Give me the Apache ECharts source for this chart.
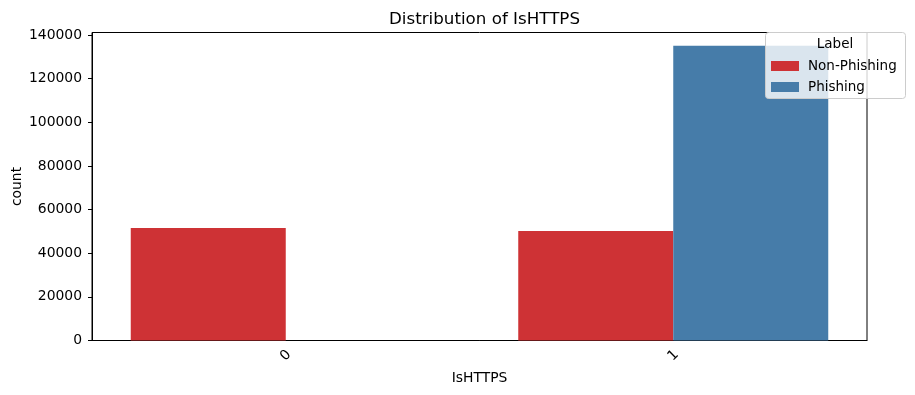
<!DOCTYPE html>
<html>
<head>
<meta charset="utf-8">
<script src="https://cdn.jsdelivr.net/npm/echarts@6/dist/echarts.min.js"></script>
<style>html,body{margin:0;padding:0;background:#fff}#c{width:915px;height:395px}</style>
</head>
<body>
<div id="c"></div>
<script>
var categories = ['0', '1'];
var nonPhishing = [51560, 50190];
var phishing = [0, 135110];
var yTicks = [0, 20000, 40000, 60000, 80000, 100000, 120000, 140000];
var seriesNames = ['Non-Phishing', 'Phishing'];

var FONT = 'DejaVu Sans';
var FS = 13.9;
var chart = echarts.init(document.getElementById('c'));
chart.setOption({
  animation: false,
  textStyle: {fontFamily: FONT},
  title: {
    text: 'Distribution of IsHTTPS',
    left: 479.5, textAlign: 'center', top: 6,
    textStyle: {fontFamily: FONT, fontSize: 16.7, fontWeight: 'normal', color: '#000'}
  },
  grid: {left: 92, right: 48, top: 32.5, bottom: 54.5, containLabel: false, outerBoundsMode: 'none',
         show: true, borderColor: '#000', borderWidth: 1, backgroundColor: 'transparent'},
  legend: {
    orient: 'vertical', left: 766, top: 54, itemGap: 7,
    itemWidth: 28, itemHeight: 10, icon: 'rect', z: 20,
    data: seriesNames,
    textStyle: {fontFamily: FONT, fontSize: 13.5, color: '#000', padding: [0, 0, 0, 4]}
  },
  graphic: [
    {type: 'rect', z: 15, shape: {x: 765.5, y: 32.5, width: 140, height: 66, r: 3},
     style: {fill: 'rgba(255,255,255,0.8)', stroke: '#cccccc', lineWidth: 1}},
    {type: 'text', z: 20, x: 835, y: 44, style: {text: 'Label', fontFamily: FONT, fontSize: 13.5, fill: '#000', textAlign: 'center', textVerticalAlign: 'middle'}}
  ],
  xAxis: {
    type: 'category', data: categories,
    name: 'IsHTTPS', nameLocation: 'middle', nameGap: 31,
    nameTextStyle: {fontFamily: FONT, fontSize: FS, color: '#000'},
    axisLine: {lineStyle: {color: '#000', width: 1}},
    axisTick: {alignWithLabel: true, length: 4, lineStyle: {color: '#000'}},
    axisLabel: {rotate: 45, margin: 15, align: 'center', verticalAlign: 'middle', fontFamily: FONT, fontSize: FS, color: '#000'},
    splitLine: {show: false}
  },
  yAxis: {
    type: 'value', min: 0, max: 141150,
    name: 'count', nameLocation: 'middle', nameGap: 68, nameRotate: 90, nameMoveOverlap: false,
    nameTextStyle: {fontFamily: FONT, fontSize: FS, color: '#000'},
    axisLine: {show: true, lineStyle: {color: '#000', width: 1}},
    axisTick: {show: true, length: 4, lineStyle: {color: '#000'}, customValues: yTicks},
    axisLabel: {margin: 10, fontFamily: FONT, fontSize: FS, color: '#000', customValues: yTicks,
                formatter: function (v) { return String(v); }},
    splitLine: {show: false}
  },
  series: [
    {name: seriesNames[0], type: 'bar', data: nonPhishing, barGap: '0%', barCategoryGap: '20%', itemStyle: {color: '#ce3235'}},
    {name: seriesNames[1], type: 'bar', data: phishing, barGap: '0%', barCategoryGap: '20%', itemStyle: {color: '#467ca9'}}
  ]
});
</script>
</body>
</html>
